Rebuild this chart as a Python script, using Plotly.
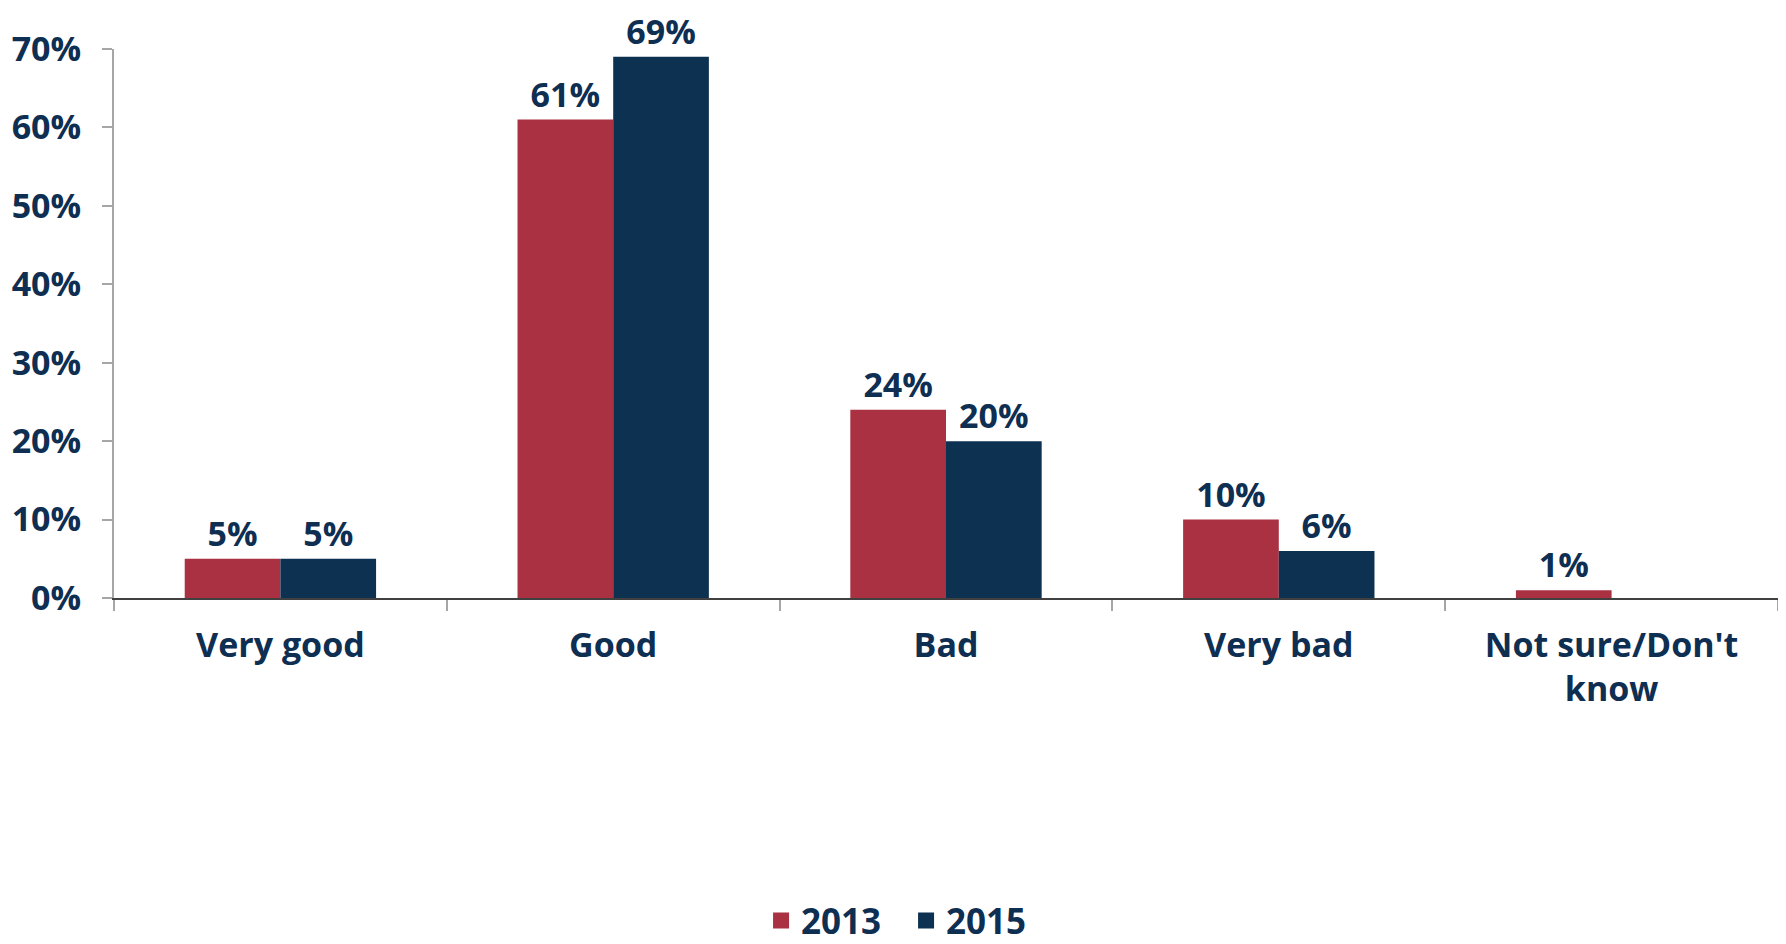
import plotly.graph_objects as go

categories = ["Very good", "Good", "Bad", "Very bad", "Not sure/Don't<br>know"]
series_names = ["2013", "2015"]
values_2013 = [0.05, 0.61, 0.24, 0.10, 0.01]
values_2015 = [0.05, 0.69, 0.20, 0.06, None]
labels_2013 = ["5%", "61%", "24%", "10%", "1%"]
labels_2015 = ["5%", "69%", "20%", "6%", ""]
y_ticks = [0, 0.1, 0.2, 0.3, 0.4, 0.5, 0.6, 0.7]
y_ticklabels = ["0%", "10%", "20%", "30%", "40%", "50%", "60%", "70%"]

RED = "#A93142"
NAVY = "#0D3151"
TXT = "#0E2E52"
FONT = "Open Sans"

fig = go.Figure()
for name, vals, labs, col in [(series_names[0], values_2013, labels_2013, RED),
                              (series_names[1], values_2015, labels_2015, NAVY)]:
    fig.add_trace(go.Bar(
        name=name, x=categories, y=vals, marker_color=col,
        marker_line_width=0,
        text=labs, textposition="outside", cliponaxis=False,
        textfont=dict(family=FONT, size=34, color=TXT, weight="bold"),
        showlegend=False,
    ))
    # legend entry with a larger square swatch
    fig.add_trace(go.Scatter(
        name=name, x=[None], y=[None], mode="markers",
        marker=dict(symbol="square", size=16, color=col),
        showlegend=True,
    ))

# page body has an 8px default margin, so the figure is 8px smaller
fig.update_layout(
    width=1778, height=936,
    paper_bgcolor="white", plot_bgcolor="white",
    margin=dict(l=106, r=8, t=41, b=346, autoexpand=False),
    barmode="group", bargap=0.425, bargroupgap=0,
    font=dict(family=FONT, color=TXT, size=34, weight="bold"),
    showlegend=True,
    legend=dict(
        orientation="h", x=0.476, xanchor="center", y=-0.588, yanchor="middle",
        font=dict(family=FONT, size=35, color=TXT, weight="bold"),
        entrywidth=100,
    ),
)
fig.update_xaxes(
    showline=True, linecolor="#404040", linewidth=2,
    ticks="outside", tickson="boundaries", ticklen=11, tickcolor="#A6A6A6", tickwidth=2,
    ticklabelstandoff=16,
    tickfont=dict(family=FONT, size=34, color=TXT, weight="bold"),
    showgrid=False, automargin=False,
)
fig.update_yaxes(
    range=[0, 0.7], tickvals=y_ticks, ticktext=y_ticklabels,
    showline=True, linecolor="#A6A6A6", linewidth=2,
    ticks="outside", ticklen=10, tickcolor="#A6A6A6", tickwidth=2,
    ticklabelstandoff=14,
    tickfont=dict(family=FONT, size=34, color=TXT, weight="bold"),
    showgrid=False, zeroline=False, automargin=False,
)

fig.write_html("out.html")
